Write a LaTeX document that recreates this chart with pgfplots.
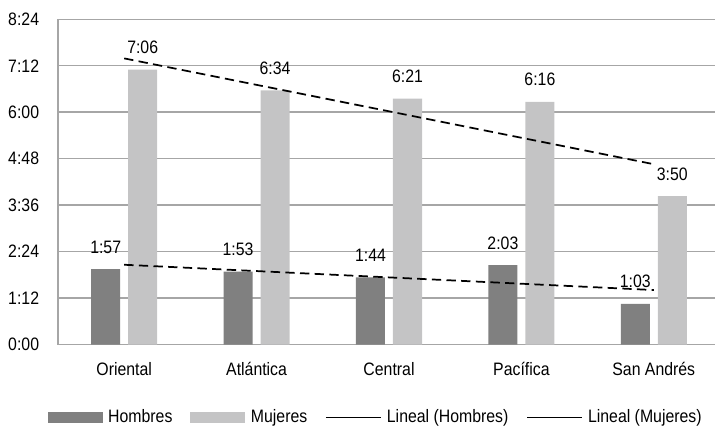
\documentclass[border=0pt]{standalone}
\usepackage{fontspec}
\setmainfont{Liberation Sans}[FakeStretch=0.88]
\usepackage{pgfplots}
\pgfplotsset{compat=1.18}

\definecolor{hombres}{RGB}{128,128,128}
\definecolor{mujeres}{RGB}{196,196,197}
\definecolor{gridgray}{RGB}{166,166,166}

\begin{document}
\begin{tikzpicture}[x=0.75pt, y=0.75pt, font=\fontsize{13.5}{16}\selectfont]
\begin{axis}[
    name=ax,
    scale only axis,
    width=496.5pt, height=243.9pt,
    xmin=0.5, xmax=5.5, ymin=0, ymax=504,
    xtick={1,2,3,4,5},
    xticklabels={Oriental,Atlántica,Central,Pacífica,San Andrés},
    ytick={0,72,144,216,288,360,432,504},
    yticklabels={0:00,1:12,2:24,3:36,4:48,6:00,7:12,8:24},
    axis x line*=bottom, axis y line*=left,
    axis line style={gridgray, line width=1.1pt},
    ymajorgrids, grid style={gridgray, line width=1.1pt},
    major tick length=0pt, tick style={draw=none},
    yticklabel style={anchor=east, inner sep=0pt, xshift=-14pt},
    xticklabel style={anchor=base, inner sep=0pt, yshift=-22.9pt},
    every node near coord/.append style={anchor=base, inner sep=0pt, yshift=12pt, black},
    legend columns=4,
    legend style={draw=none, fill=none, inner sep=0pt,
        at={(0.4784,-0.2236)}, anchor=center,
        nodes={inner sep=0pt},
        /tikz/every odd column/.style={column sep=4.1pt},
        /tikz/every even column/.style={column sep=13.5pt}},
]
\addplot[ybar, bar width=21.75pt, bar shift=-13.875pt, fill=hombres, draw=none,
    nodes near coords, point meta=explicit symbolic,
    nodes near coords style={xshift=-13.875pt},
    legend image code/.code={\fill[hombres] (0pt,-4.1pt) rectangle (41.25pt,4.1pt);}]
    coordinates {(1,117)[1:57] (2,113)[1:53] (3,104)[1:44] (4,123)[2:03] (5,63)[1:03]};
\addlegendentry{Hombres}
\addplot[ybar, bar width=21.75pt, bar shift=13.875pt, fill=mujeres, draw=none,
    nodes near coords, point meta=explicit symbolic,
    nodes near coords style={xshift=13.875pt},
    legend image code/.code={\fill[mujeres] (0pt,-4.1pt) rectangle (41.25pt,4.1pt);}]
    coordinates {(1,426)[7:06] (2,394)[6:34] (3,381)[6:21] (4,376)[6:16] (5,230)[3:50]};
\addlegendentry{Mujeres}
% trend lines: least squares over the five regions
\addplot[black, line width=1.3pt, dash pattern=on 7pt off 4pt, sharp plot,
    legend image code/.code={\draw[black, solid, line width=0.9pt] (0pt,0pt) -- (41.25pt,0pt);}]
    coordinates {(1,123.6) (5,84.4)};
\addlegendentry{Lineal (Hombres)}
\addplot[black, line width=1.3pt, dash pattern=on 7pt off 4pt, sharp plot,
    legend image code/.code={\draw[black, solid, line width=0.9pt] (0pt,0pt) -- (41.25pt,0pt);}]
    coordinates {(1,443.4) (5,279.4)};
\addlegendentry{Lineal (Mujeres)}
\end{axis}
\pgfresetboundingbox
\path ([shift={(-58,-81.5)}]ax.south west) rectangle ++(715,426);
\end{tikzpicture}
\end{document}
